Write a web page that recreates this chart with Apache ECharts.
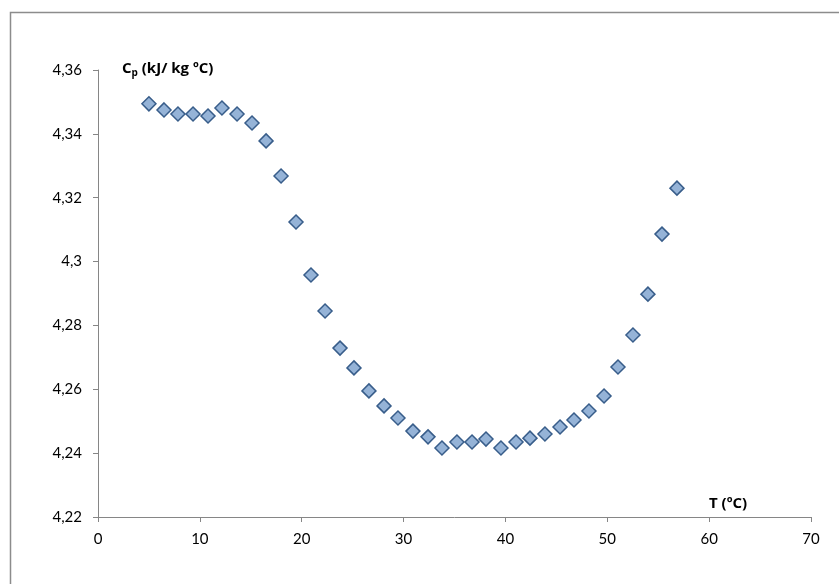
<!DOCTYPE html>
<html>
<head>
<meta charset="utf-8">
<script src="https://cdn.jsdelivr.net/npm/echarts@6/dist/echarts.min.js"></script>
<style>html,body{margin:0;padding:0;background:#fff;overflow:hidden}#c{width:839px;height:584px}</style>
</head>
<body>
<div id="c"></div>
<script>
const temperatures = [5.0, 6.48, 7.85, 9.33, 10.8, 12.17, 13.65, 15.12, 16.5, 17.97, 19.44, 20.91, 22.29, 23.76, 25.13, 26.6, 28.08, 29.45, 30.92, 32.4, 33.77, 35.24, 36.72, 38.09, 39.56, 41.04, 42.41, 43.88, 45.36, 46.73, 48.2, 49.68, 51.05, 52.52, 53.99, 55.37, 56.84];
const cpValues = [4.3494, 4.3475, 4.3462, 4.3462, 4.3456, 4.3481, 4.3462, 4.3434, 4.3378, 4.3268, 4.3124, 4.2958, 4.2845, 4.2729, 4.2667, 4.2595, 4.2548, 4.2510, 4.2469, 4.2451, 4.2416, 4.2435, 4.2435, 4.2444, 4.2416, 4.2435, 4.2447, 4.2460, 4.2482, 4.2504, 4.2532, 4.2579, 4.2670, 4.2770, 4.2898, 4.3086, 4.3230];
const yAxisName = 'C{sub|p} (kJ/ kg ºC)';
const xAxisName = 'T (ºC)';

const points = temperatures.map((t, i) => [t, cpValues[i]]);
const FONT = 'Lato, "Open Sans", sans-serif';
const TFONT = '"Open Sans", Lato, sans-serif';
const chart = echarts.init(document.getElementById('c'), null, {renderer: 'canvas'});
chart.setOption({
  animation: false,
  backgroundColor: '#fff',
  grid: {left: 98, right: 28, top: 70, bottom: 67},
  xAxis: {
    type: 'value', min: 0, max: 70, interval: 10,
    axisLine: {lineStyle: {color: '#868686', width: 1}},
    axisTick: {show: true, inside: false, length: 5, lineStyle: {color: '#868686'}},
    axisLabel: {color: '#000', fontFamily: FONT, fontSize: 15, margin: 15},
    splitLine: {show: false}
  },
  yAxis: {
    type: 'value', min: 4.22, max: 4.36, interval: 0.02,
    axisLine: {show: true, lineStyle: {color: '#868686', width: 1}},
    axisTick: {show: true, inside: false, length: 5, lineStyle: {color: '#868686'}},
    axisLabel: {color: '#000', fontFamily: FONT, fontSize: 15, margin: 16,
      formatter: v => String(+v.toFixed(2)).replace('.', ',')},
    splitLine: {show: false}
  },
  graphic: [
    {type: 'polyline', shape: {points: [[10.5, 700], [10.5, 12.5], [1000, 12.5]]}, style: {fill: 'none', stroke: '#8c8c8c', lineWidth: 1.5}, z: -1, silent: true},
    {type: 'text', left: 122, top: 61, style: {text: yAxisName, fontFamily: TFONT, fontWeight: 'bold', fontSize: 15, fill: '#000',
      rich: {sub: {fontSize: 10, fontWeight: 'bold', fontFamily: TFONT, verticalAlign: 'bottom', padding: [9, 0, 0, 0]}}}},
    {type: 'text', left: 709, top: 496, style: {text: xAxisName, fontFamily: TFONT, fontWeight: 'bold', fontSize: 15, fill: '#000'}}
  ],
  series: [{
    type: 'scatter',
    data: points,
    symbol: 'diamond',
    symbolSize: 14,
    itemStyle: {color: '#95B3D7', borderColor: '#385D8A', borderWidth: 1.5, opacity: 1}
  }]
});
</script>
</body>
</html>
